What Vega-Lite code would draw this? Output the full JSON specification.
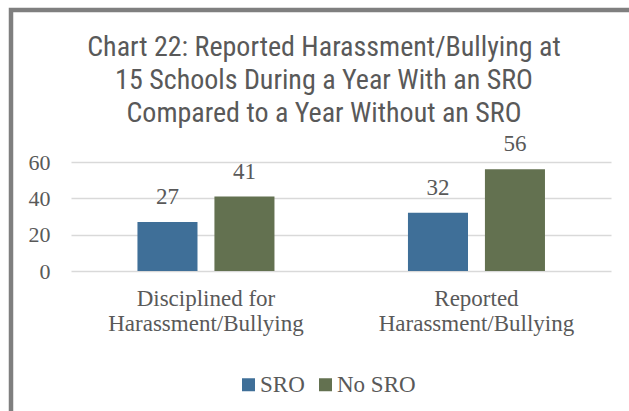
{
  "$schema": "https://vega.github.io/schema/vega-lite/v6.json",
  "autosize": {"type": "none"},
  "padding": {"left": 11, "top": 10, "right": -32, "bottom": -15},
  "width": 650,
  "height": 416,
  "background": "white",
  "title": {
    "text": ["Chart 22: Reported Harassment/Bullying at", "15 Schools During a Year With an SRO", "Compared to a Year Without an SRO"],
    "font": "Liberation Sans Narrow, Arial Narrow, Roboto Condensed, DejaVu Sans Condensed",
    "fontSize": 28,
    "fontWeight": "normal",
    "color": "#595959",
    "lineHeight": 33,
    "anchor": "middle",
    "frame": "group",
    "offset": -118,
    "dx": -12
  },
  "data": {
    "values": [
      {"category": "Disciplined for Harassment/Bullying", "series": "SRO", "value": 27},
      {"category": "Disciplined for Harassment/Bullying", "series": "No SRO", "value": 41},
      {"category": "Reported Harassment/Bullying", "series": "SRO", "value": 32},
      {"category": "Reported Harassment/Bullying", "series": "No SRO", "value": 56}
    ]
  },
  "encoding": {
    "x": {
      "field": "category",
      "type": "nominal",
      "sort": null,
      "scale": {"paddingInner": 0.4935, "paddingOuter": 0.4482, "align": 0.5215},
      "axis": {
        "title": null,
        "orient": "bottom",
        "offset": -155,
        "domain": false,
        "ticks": false,
        "labelAngle": 0,
        "labelPadding": 16,
        "labelLimit": 0,
        "labelFont": "Liberation Serif",
        "labelFontSize": 23,
        "labelColor": "#595959",
        "labelLineHeight": 25,
        "labelExpr": "datum.value == 'Reported Harassment/Bullying' ? ['Reported', 'Harassment/Bullying'] : ['Disciplined for', 'Harassment/Bullying']"
      }
    },
    "xOffset": {
      "field": "series",
      "type": "nominal",
      "sort": ["SRO", "No SRO"],
      "scale": {"paddingInner": 0.22, "paddingOuter": 0}
    },
    "y": {
      "field": "value",
      "type": "quantitative",
      "scale": {"domain": [-85.32, 143.67], "nice": false, "zero": false},
      "axis": {
        "title": null,
        "orient": "left",
        "offset": -600,
        "values": [0, 20, 40, 60],
        "grid": false,
        "domain": false,
        "ticks": true,
        "tickSize": 540,
        "tickColor": "#d9d9d9",
        "tickWidth": 1.5,
        "labelPadding": 21,
        "labelFont": "Liberation Serif",
        "labelFontSize": 22,
        "labelColor": "#595959",
        "zindex": 0
      }
    }
  },
  "layer": [
    {
      "mark": {"type": "bar"},
      "encoding": {
        "color": {
          "field": "series",
          "type": "nominal",
          "sort": ["SRO", "No SRO"],
          "scale": {"domain": ["SRO", "No SRO"], "range": ["#3f6f98", "#637150"]},
          "legend": {
            "title": null,
            "orient": "none",
            "legendX": 226,
            "legendY": 363,
            "direction": "horizontal",
            "symbolType": "square",
            "symbolSize": 169,
            "symbolStrokeWidth": 0,
            "labelFont": "Liberation Serif",
            "labelFontSize": 23,
            "labelColor": "#595959",
            "labelOffset": 0,
            "columnPadding": 9
          }
        }
      }
    },
    {
      "mark": {"type": "text", "baseline": "alphabetic", "dy": -18, "font": "Liberation Serif", "fontSize": 23, "color": "#595959"},
      "encoding": {
        "text": {"field": "value", "type": "quantitative"}
      }
    }
  ],
  "config": {
    "view": {"stroke": "#7f7f7f", "strokeWidth": 4.5}
  }
}
